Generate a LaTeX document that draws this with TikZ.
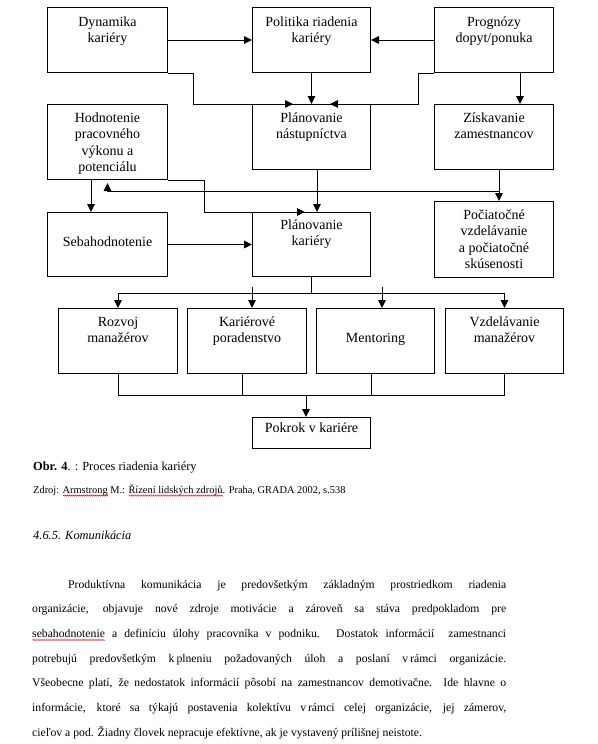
\documentclass[tikz,border=0pt]{standalone}
\usepackage{fontspec}
\setmainfont{Liberation Serif}
\usetikzlibrary{arrows.meta,decorations.pathmorphing}
\newlength\sqlen
\newcommand\squig[1]{\settowidth\sqlen{#1}\rlap{\tikz[baseline=0pt]\draw[red,line width=0.45pt,decorate,decoration={zigzag,amplitude=0.6pt,segment length=2pt}] (0pt,-2.6pt) -- (\sqlen,-2.6pt);}#1}
\begin{document}
\begin{tikzpicture}[x=1pt,y=-1pt,
  box/.style={draw,line width=1pt,inner sep=0,anchor=north west},
  lbl/.style={anchor=base,align=center,inner sep=0,font=\fontsize{14}{16.5}\selectfont},
  ln/.style={line width=1pt},
  ar/.style={ln,-{Triangle[length=8pt,width=7.5pt]}},
  txt/.style={anchor=base west,inner sep=0},
  para/.style={txt,font=\fontsize{11.7}{14}\selectfont},
]
\fill[white] (0,0) rectangle (597,744);
\useasboundingbox (0,0) rectangle (597,744);

% boxes
\node[box,minimum width=120pt,minimum height=65pt] (A) at (47,7) {};
\node[box,minimum width=118pt,minimum height=65pt] (B) at (252,7) {};
\node[box,minimum width=119pt,minimum height=65pt] (C) at (434,7) {};
\node[box,minimum width=120pt,minimum height=75pt] (D) at (47,104) {};
\node[box,minimum width=118pt,minimum height=65pt] (E) at (252,104) {};
\node[box,minimum width=119pt,minimum height=65pt] (F) at (434,104) {};
\node[box,minimum width=120pt,minimum height=64pt] (G) at (47,212) {};
\node[box,minimum width=118pt,minimum height=64pt] (H) at (252,212) {};
\node[box,minimum width=119pt,minimum height=76pt] (I) at (434,201) {};
\node[box,minimum width=119pt,minimum height=65pt] (J) at (58,308) {};
\node[box,minimum width=119pt,minimum height=65pt] (K) at (187,308) {};
\node[box,minimum width=118pt,minimum height=65pt] (L) at (316,308) {};
\node[box,minimum width=118pt,minimum height=65pt] (M) at (445,308) {};
\node[box,minimum width=118pt,minimum height=31pt] (N) at (252,417) {};

% box texts (anchor = baseline of the last line)
\node[lbl] (At) at ([yshift=-35.5pt]A.north) {Dynamika\\kariéry};
\node[lbl] (Bt) at ([yshift=-35.5pt]B.north) {Politika riadenia\\kariéry};
\node[lbl] (Ct) at ([yshift=-35.5pt]C.north) {Prognózy\\dopyt/ponuka};
\node[lbl] (Dt) at ([yshift=-67.5pt]D.north) {Hodnotenie\\pracovného\\výkonu a\\potenciálu};
\node[lbl] (Et) at ([yshift=-34.5pt]E.north) {Plánovanie\\nástupníctva};
\node[lbl] (Ft) at ([yshift=-34.5pt]F.north) {Získavanie\\zamestnancov};
\node[lbl] (Gt) at ([yshift=-34pt]G.north) {Sebahodnotenie};
\node[lbl] (Ht) at ([yshift=-33.5pt]H.north) {Plánovanie\\kariéry};
\node[lbl] (It) at ([yshift=-67.5pt]I.north) {Počiatočné\\vzdelávanie\\a počiatočné\\skúsenosti};
\node[lbl] (Jt) at ([yshift=-34.5pt]J.north) {Rozvoj\\manažérov};
\node[lbl] (Kt) at ([yshift=-34.5pt]K.north) {Kariérové\\poradenstvo};
\node[lbl] (Lt) at ([yshift=-34pt]L.north) {Mentoring};
\node[lbl] (Mt) at ([yshift=-34.5pt]M.north) {Vzdelávanie\\manažérov};
\node[lbl] (Nt) at ([yshift=-15pt]N.north) {Pokrok v kariére};

% connection points
\coordinate (Ein1) at ([xshift=41pt]E.north west);
\coordinate (Ein2) at ([xshift=-41pt]E.north east);
\coordinate (Cout) at ([xshift=86pt]C.south west);
\coordinate (Fin) at ([xshift=86pt]F.north west);
\coordinate (Fout) at ([xshift=65pt]F.south west);
\coordinate (Iin) at ([xshift=65pt]I.north west);
\coordinate (Dout) at ([xshift=44pt]D.south west);
\coordinate (Gin) at ([xshift=44pt]G.north west);
\coordinate (Hin1) at ([xshift=53pt]H.north west);
\coordinate (Eout) at ([xshift=65pt]E.south west);
\coordinate (Hin2) at ([xshift=65pt]H.north west);
\coordinate (Kin) at ([xshift=65pt]K.north west);
\coordinate (Lin) at ([xshift=66pt]L.north west);
\coordinate (Kout) at ([xshift=55pt]K.south west);
\coordinate (Lout) at ([xshift=55pt]L.south west);
\coordinate (Nin) at ([xshift=54pt]N.north west);
\coordinate (Dfb) at ([yshift=-3pt]D.south);

% connectors
\draw[ar] (A.east) -- (B.west);
\draw[ar] (C.west) -- (B.east);
\draw[ar] (A.south east) -- ++(25,0) |- (Ein1);
\draw[ar] (B.south) -- (E.north);
\draw[ar] (C.south west) -- ++(-16,0) |- (Ein2);
\draw[ar] (Cout) -- (Fin);
\draw[ar] (Fout) -- (Iin);
\path (Fout) ++(0,21) coordinate (fb);
\draw[ar] (fb) -| (Dfb);
\draw[ar] (Dout) -- (Gin);
\draw[ar] (D.south east) -- ++(36,0) |- (Hin1);
\draw[ar] (Eout) -- (Hin2);
\draw[ar] (G.east) -- (H.west);
\draw[ln] (H.south) -- ++(0,16) coordinate (hj);
\draw[ln] (hj -| J.north) -- (hj -| M.north);
\draw[ar] (hj -| J.north) -- (J.north);
\draw[ar] (Kin) ++(0,-21) -- (Kin);
\draw[ar] (Lin) ++(0,-21) -- (Lin);
\draw[ar] (hj -| M.north) -- (M.north);
\draw[ln] (J.south) -- ++(0,21) coordinate (bj) -- (bj -| M.south) -- (M.south);
\draw[ln] (Kout) -- ++(0,21);
\draw[ln] (Lout) -- ++(0,21);
\draw[ar] (Nin |- bj) -- (Nin);

% caption and text
\node[txt,font=\fontsize{12.4}{14}\selectfont] (cap) at (33,470) {\textbf{Obr. 4}. : Proces riadenia kariéry};
\node[txt,font=\fontsize{10.4}{12}\selectfont] (src) at (33,493) {Zdroj: \squig{Armstrong} M.: \squig{Řízení lidských zdrojů}. Praha, GRADA 2002, s.538};
\node[txt,font=\fontsize{12.4}{14}\selectfont\itshape] (sec) at (33,539) {4.6.5. Komunikácia};

\node[para] (p1) at (68,588) {\makebox[438pt][s]{Produktívna komunikácia je predovšetkým základným prostriedkom riadenia}};
\node[para] (p2) at (32,612.7) {\makebox[474pt][s]{organizácie, objavuje nové zdroje motivácie a zároveň sa stáva predpokladom pre}};
\node[para] (p3) at (32,637.4) {\makebox[474pt][s]{\squig{sebahodnotenie} a definíciu úlohy pracovníka v podniku. Dostatok informácií\ \ zamestnanci}};
\node[para] (p4) at (32,662) {\makebox[474pt][s]{potrebujú predovšetkým k\,plneniu požadovaných úloh a poslaní v\,rámci organizácie.}};
\node[para] (p5) at (32,686.8) {\makebox[474pt][s]{Všeobecne platí, že nedostatok informácií pôsobí na zamestnancov demotivačne. Ide hlavne o}};
\node[para] (p6) at (32,711.5) {\makebox[474pt][s]{informácie, ktoré sa týkajú postavenia kolektívu v\,rámci celej organizácie, jej zámerov,}};
\node[para] (p7) at (32,736.2) {cieľov a pod. Žiadny človek nepracuje efektívne, ak je vystavený prílišnej neistote.};
\end{tikzpicture}
\end{document}
